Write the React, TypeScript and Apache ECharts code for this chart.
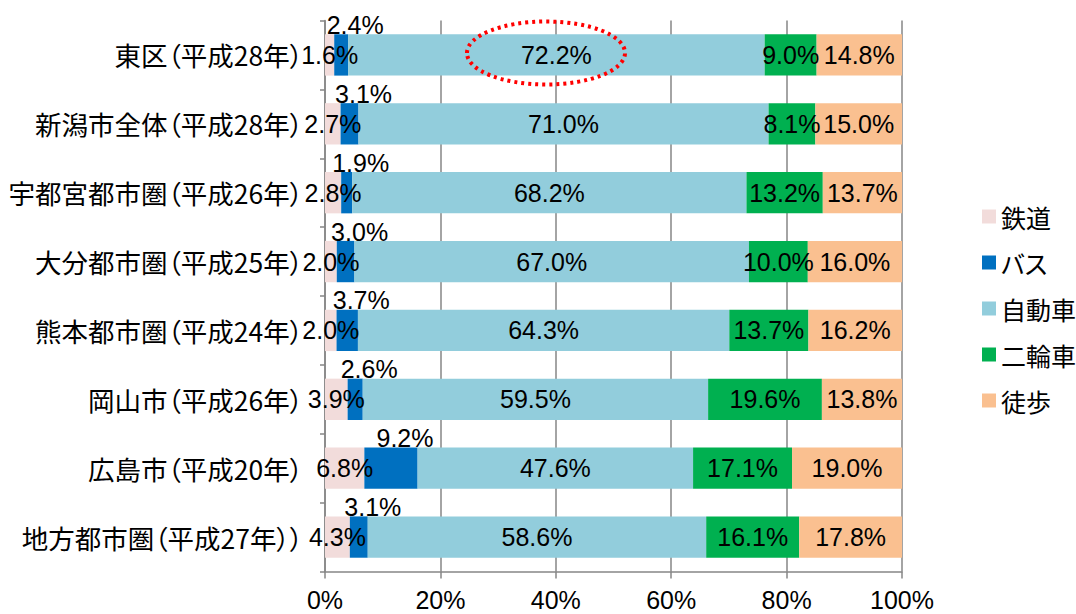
import React, { useEffect, useRef } from "react";
import * as echarts from "echarts";

const categories = [
  "東区（平成28年）",
  "新潟市全体（平成28年）",
  "宇都宮都市圏（平成26年）",
  "大分都市圏（平成25年）",
  "熊本都市圏（平成24年）",
  "岡山市（平成26年）",
  "広島市（平成20年）",
  "地方都市圏（平成27年））",
];
const seriesNames = ["鉄道", "バス", "自動車", "二輪車", "徒歩"];
const rail = [1.6, 2.7, 2.8, 2.0, 2.0, 3.9, 6.8, 4.3];
const bus = [2.4, 3.1, 1.9, 3.0, 3.7, 2.6, 9.2, 3.1];
const car = [72.2, 71.0, 68.2, 67.0, 64.3, 59.5, 47.6, 58.6];
const bike = [9.0, 8.1, 13.2, 10.0, 13.7, 19.6, 17.1, 16.1];
const walk = [14.8, 15.0, 13.7, 16.0, 16.2, 13.8, 19.0, 17.8];
const xTicks = [0, 20, 40, 60, 80, 100];
const colors = ["#F2DCDB", "#0070C0", "#92CDDC", "#00B050", "#FAC090"];

const NUM_FONT = "'Liberation Sans', Arial, 'Noto Sans CJK JP', sans-serif";
const CJK_FONT = "'Noto Sans CJK JP', 'Liberation Sans', sans-serif";

export default function App() {
  const ref = useRef<HTMLDivElement>(null);
  useEffect(() => {
    if (!ref.current) return;
    const chart = echarts.init(ref.current, null, { renderer: "svg" });
    const all = [rail, bus, car, bike, walk];
    const totals = categories.map((_, i) => all.reduce((s, arr) => s + arr[i], 0));
    const series = all.map((arr, k) => ({
      name: seriesNames[k],
      type: "bar",
      stack: "total",
      barWidth: "60%",
      itemStyle: { color: colors[k] },
      data: arr.map((v, i) => ({ value: (v / totals[i]) * 100, raw: v })),
      label: {
        show: true,
        position: "inside",
        offset: k === 1 ? [14, -30] : [0, 0],
        color: "#000",
        fontSize: 25,
        fontFamily: NUM_FONT,
        formatter: (p: any) => p.data.raw.toFixed(1) + "%",
      },
      z: 2,
    }));
    chart.setOption({
      animation: false,
      grid: {
        left: 325,
        right: 174,
        top: 20.5,
        bottom: 42.5,
        containLabel: false,
        outerBoundsMode: "none",
      },
      legend: {
        orient: "vertical",
        left: 977,
        top: 199,
        itemWidth: 14,
        itemHeight: 14,
        itemGap: 21,
        icon: "rect",
        textStyle: { fontSize: 25, color: "#000", fontFamily: CJK_FONT },
        data: seriesNames,
      },
      xAxis: {
        type: "value",
        min: xTicks[0],
        max: xTicks[xTicks.length - 1],
        interval: 20,
        axisLine: { show: true, lineStyle: { color: "#868686", width: 1.5 } },
        axisTick: { show: true, length: 7, lineStyle: { color: "#868686", width: 1.5 } },
        splitLine: { show: true, lineStyle: { color: "#868686", width: 1.5 } },
        axisLabel: {
          formatter: "{value}%",
          fontSize: 25,
          color: "#000",
          fontFamily: NUM_FONT,
          margin: 16,
        },
      },
      yAxis: {
        type: "category",
        inverse: true,
        data: categories,
        axisLine: { show: true, lineStyle: { color: "#868686", width: 1.5 } },
        axisTick: { show: true, length: 5, lineStyle: { color: "#868686", width: 1.5 } },
        axisLabel: {
          fontSize: 26.5,
          color: "#000",
          fontFamily: CJK_FONT,
          margin: 22,
        },
      },
      graphic: [
        {
          type: "ellipse",
          shape: { cx: 546, cy: 53, rx: 79, ry: 31.5 },
          style: { fill: "none", stroke: "#FF0000", lineWidth: 4, lineDash: [3, 4] },
          z: 100,
        },
      ],
      series,
    });
    return () => chart.dispose();
  }, []);
  return (
    <>
      <style>{`#chart-root svg text { font-feature-settings: "palt" 1 !important; }`}</style>
      <div
        id="chart-root"
        ref={ref}
        style={{
          position: "fixed",
          left: 0,
          top: 0,
          width: 1076,
          height: 614,
          background: "#fff",
          fontFeatureSettings: '"palt" 1',
        }}
      />
    </>
  );
}
